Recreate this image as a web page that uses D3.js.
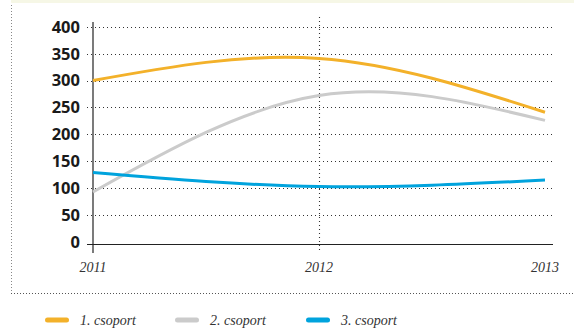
<!DOCTYPE html>
<html>
<head>
<meta charset="utf-8">
<script src="https://cdn.jsdelivr.net/npm/d3@7"></script>
<style>
  body { margin: 0; background: #fff; }
  svg { display: block; }
</style>
</head>
<body>
<svg id="graph"></svg>
<script>
var years = [2011, 2012, 2013];
var yTicks = [0, 50, 100, 150, 200, 250, 300, 350, 400];
var seriesNames = ["1. csoport", "2. csoport", "3. csoport"];
var seriesColors = ["#f3b12a", "#cbcbcb", "#00a3dd"];
var group1 = [300, 341, 241];
var group2 = [93, 272, 226];
var group3 = [129, 103, 115];

function drawChart() {
    var width = 574, height = 329;
    var svg = d3.select("#graph")
        .attr("width", width)
        .attr("height", height);

    // cream band at the top
    svg.append("rect")
        .attr("x", 11).attr("y", 0)
        .attr("width", width - 11).attr("height", 3)
        .attr("fill", "#f6f7e6");

    // dotted frame, left and bottom
    svg.append("line")
        .attr("x1", 11.5).attr("x2", 11.5)
        .attr("y1", 5).attr("y2", 293)
        .attr("stroke", "#888").attr("stroke-width", 1)
        .attr("stroke-dasharray", "1,2");
    svg.append("line")
        .attr("x1", 11).attr("x2", width)
        .attr("y1", 293.5).attr("y2", 293.5)
        .attr("stroke", "#555").attr("stroke-width", 1)
        .attr("stroke-dasharray", "1,2");

    var x = d3.scaleLinear().domain([2011, 2013]).range([93, 545]);
    var y = d3.scaleLinear().domain([0, 400]).range([242, 26.7]);

    // horizontal dotted gridlines
    svg.append("g")
        .selectAll("line")
        .data(yTicks.filter(d => d > 0))
        .enter()
        .append("line")
        .attr("x1", 87).attr("x2", 553)
        .attr("y1", d => Math.round(y(d)) + 0.5)
        .attr("y2", d => Math.round(y(d)) + 0.5)
        .attr("stroke", "#333").attr("stroke-width", 1.1)
        .attr("stroke-dasharray", "1,3");

    // vertical dotted line at 2012
    svg.append("line")
        .attr("x1", Math.round(x(2012)) + 0.5).attr("x2", Math.round(x(2012)) + 0.5)
        .attr("y1", 17).attr("y2", 251)
        .attr("stroke", "#333").attr("stroke-width", 1.1)
        .attr("stroke-dasharray", "1,3");

    // axes
    svg.append("line")
        .attr("x1", 87).attr("x2", 553)
        .attr("y1", 244.5).attr("y2", 244.5)
        .attr("stroke", "#222").attr("stroke-width", 1.2);
    svg.append("line")
        .attr("x1", x(2011)).attr("x2", x(2011))
        .attr("y1", 22).attr("y2", 253)
        .attr("stroke", "#222").attr("stroke-width", 1.2);

    // y tick labels
    svg.append("g")
        .selectAll("text")
        .data(yTicks)
        .enter()
        .append("text")
        .attr("x", 80)
        .attr("y", d => y(d))
        .attr("dy", "0.36em")
        .attr("text-anchor", "end")
        .attr("font-family", "'Open Sans', sans-serif")
        .attr("font-weight", 700)
        .attr("font-size", 16.5)
        .attr("fill", "#1a1a1a")
        .text(d => d);

    // x labels
    svg.append("g")
        .selectAll("text")
        .data(years)
        .enter()
        .append("text")
        .attr("x", d => x(d))
        .attr("y", 272)
        .attr("text-anchor", "middle")
        .attr("font-family", "'Liberation Serif', serif")
        .attr("font-style", "italic")
        .attr("font-size", 14)
        .attr("fill", "#333")
        .text(d => d);

    // series lines
    var series = [group1, group2, group3];
    var line = d3.line()
        .x((d, i) => x(years[i]))
        .y(d => y(d))
        .curve(d3.curveNatural);

    svg.append("g")
        .selectAll("path")
        .data(series)
        .enter()
        .append("path")
        .attr("d", d => line(d))
        .attr("fill", "none")
        .attr("stroke", (d, i) => seriesColors[i])
        .attr("stroke-width", 3);

    // legend
    var legendX = [45, 175, 306];
    var lg = svg.append("g")
        .selectAll("g")
        .data(seriesNames)
        .enter()
        .append("g")
        .attr("transform", (d, i) => "translate(" + legendX[i] + ",320)");
    lg.append("line")
        .attr("x1", 2.5).attr("x2", 21.5)
        .attr("y1", 0).attr("y2", 0)
        .attr("stroke", (d, i) => seriesColors[i])
        .attr("stroke-width", 5)
        .attr("stroke-linecap", "round");
    lg.append("text")
        .attr("x", 35)
        .attr("y", 0)
        .attr("dy", "0.35em")
        .attr("font-family", "'Liberation Serif', serif")
        .attr("font-style", "italic")
        .attr("font-size", 14)
        .attr("fill", "#333")
        .text(d => d);
}

drawChart();
</script>
</body>
</html>
